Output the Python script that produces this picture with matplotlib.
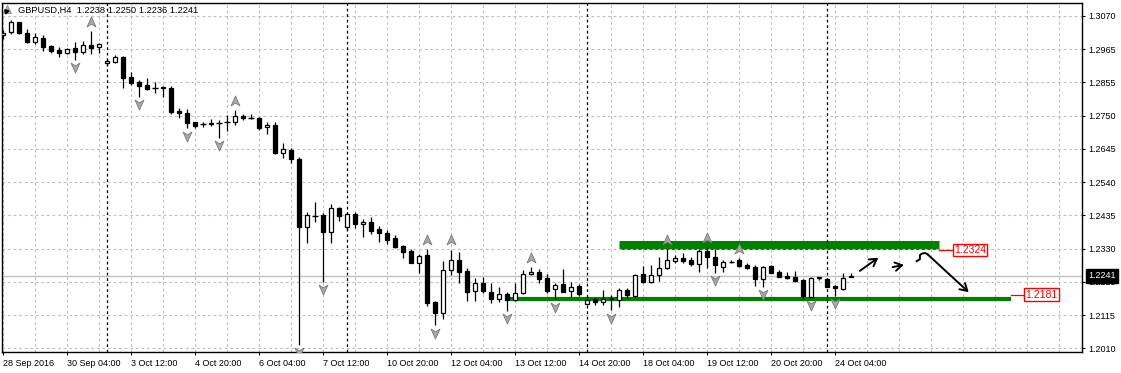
import matplotlib
matplotlib.use("Agg")
import matplotlib.pyplot as plt
import numpy as np
from matplotlib.lines import Line2D
from matplotlib.path import Path
from matplotlib.transforms import blended_transform_factory

plt.rcParams["font.family"] = ["Liberation Sans", "DejaVu Sans"]

# GBPUSD H4 candles, 28 Sep 20:00 .. 24 Oct 12:00
opens = [1.3009, 1.3018, 1.3050, 1.3015, 1.2988, 1.2999, 1.2974, 1.2962, 1.2951, 1.2967,
         1.2956, 1.2977, 1.2970, 1.2919, 1.2924, 1.2938, 1.2874, 1.2859, 1.2850, 1.2841,
         1.2844, 1.2841, 1.2767, 1.2760, 1.2731, 1.2724, 1.2730, 1.2727, 1.2732, 1.2732,
         1.2752, 1.2745, 1.2744, 1.2715, 1.2722, 1.2634, 1.2643, 1.2613, 1.2396, 1.2434,
         1.2435, 1.2382, 1.2457, 1.2396, 1.2438, 1.2406, 1.2414, 1.2390, 1.2379, 1.2361,
         1.2336, 1.2321, 1.2281, 1.2308, 1.2159, 1.2122, 1.2260, 1.2292, 1.2257, 1.2192,
         1.2217, 1.2190, 1.2166, 1.2182, 1.2164, 1.2187, 1.2246, 1.2253, 1.2233, 1.2198,
         1.2214, 1.2194, 1.2209, 1.2151, 1.2167, 1.2158, 1.2166, 1.2164, 1.2196, 1.2178,
         1.2247, 1.2222, 1.2244, 1.2265, 1.2288, 1.2297, 1.2292, 1.2279, 1.2320, 1.2300,
         1.2270, 1.2284, 1.2292, 1.2276, 1.2270, 1.2230, 1.2272, 1.2254, 1.2241, 1.2236,
         1.2228, 1.2175, 1.2233, 1.2231, 1.2209, 1.2198, 1.2238]
highs = [1.3025, 1.3057, 1.3052, 1.3028, 1.3015, 1.3010, 1.2977, 1.2970, 1.2969, 1.2988,
         1.2990, 1.3022, 1.2985, 1.2932, 1.2946, 1.2942, 1.2892, 1.2866, 1.2871, 1.2860,
         1.2847, 1.2847, 1.2776, 1.2773, 1.2733, 1.2733, 1.2740, 1.2738, 1.2754, 1.2770,
         1.2756, 1.2756, 1.2749, 1.2733, 1.2731, 1.2666, 1.2648, 1.2621, 1.2446, 1.2476,
         1.2440, 1.2470, 1.2462, 1.2445, 1.2444, 1.2421, 1.2430, 1.2400, 1.2387, 1.2371,
         1.2339, 1.2326, 1.2310, 1.2326, 1.2162, 1.2288, 1.2324, 1.2318, 1.2265, 1.2235,
         1.2238, 1.2217, 1.2205, 1.2190, 1.2217, 1.2260, 1.2268, 1.2262, 1.2246, 1.2217,
         1.2263, 1.2222, 1.2215, 1.2169, 1.2172, 1.2196, 1.2180, 1.2201, 1.2201, 1.2247,
         1.2273, 1.2276, 1.2302, 1.2326, 1.2308, 1.2315, 1.2302, 1.2326, 1.2331, 1.2326,
         1.2292, 1.2293, 1.2297, 1.2281, 1.2276, 1.2273, 1.2275, 1.2260, 1.2254, 1.2257,
         1.2231, 1.2236, 1.2238, 1.2233, 1.2212, 1.2251, 1.2250]
lows = [1.2997, 1.3012, 1.3012, 1.2985, 1.2980, 1.2959, 1.2951, 1.2940, 1.2949, 1.2930,
        1.2949, 1.2949, 1.2951, 1.2910, 1.2919, 1.2841, 1.2850, 1.2813, 1.2834, 1.2823,
        1.2813, 1.2756, 1.2744, 1.2712, 1.2714, 1.2715, 1.2719, 1.2682, 1.2704, 1.2722,
        1.2738, 1.2740, 1.2706, 1.2693, 1.2630, 1.2618, 1.2600, 1.2022, 1.2347, 1.2414,
        1.2222, 1.2347, 1.2417, 1.2387, 1.2393, 1.2364, 1.2374, 1.2350, 1.2342, 1.2329,
        1.2299, 1.2281, 1.2249, 1.2145, 1.2084, 1.2102, 1.2244, 1.2217, 1.2162, 1.2162,
        1.2187, 1.2155, 1.2159, 1.2130, 1.2162, 1.2182, 1.2244, 1.2217, 1.2187, 1.2166,
        1.2190, 1.2175, 1.2176, 1.2148, 1.2148, 1.2148, 1.2132, 1.2141, 1.2172, 1.2175,
        1.2217, 1.2217, 1.2225, 1.2263, 1.2281, 1.2281, 1.2272, 1.2254, 1.2265, 1.2251,
        1.2254, 1.2281, 1.2270, 1.2262, 1.2209, 1.2206, 1.2249, 1.2236, 1.2230, 1.2222,
        1.2166, 1.2173, 1.2228, 1.2204, 1.2177, 1.2196, 1.2236]
closes = [1.3016, 1.3050, 1.3015, 1.2988, 1.3003, 1.2972, 1.2959, 1.2951, 1.2964, 1.2956,
          1.2977, 1.2967, 1.2980, 1.2926, 1.2938, 1.2873, 1.2857, 1.2847, 1.2836, 1.2840,
          1.2839, 1.2765, 1.2760, 1.2730, 1.2719, 1.2725, 1.2724, 1.2728, 1.2733, 1.2751,
          1.2744, 1.2744, 1.2714, 1.2722, 1.2634, 1.2645, 1.2613, 1.2396, 1.2435, 1.2433,
          1.2382, 1.2457, 1.2432, 1.2438, 1.2406, 1.2414, 1.2384, 1.2379, 1.2355, 1.2334,
          1.2318, 1.2283, 1.2304, 1.2154, 1.2122, 1.2260, 1.2292, 1.2254, 1.2190, 1.2217,
          1.2193, 1.2166, 1.2182, 1.2164, 1.2187, 1.2246, 1.2253, 1.2230, 1.2194, 1.2212,
          1.2190, 1.2205, 1.2183, 1.2164, 1.2157, 1.2167, 1.2167, 1.2196, 1.2180, 1.2244,
          1.2222, 1.2244, 1.2265, 1.2292, 1.2297, 1.2290, 1.2278, 1.2320, 1.2300, 1.2276,
          1.2284, 1.2286, 1.2273, 1.2267, 1.2230, 1.2270, 1.2251, 1.2238, 1.2233, 1.2225,
          1.2177, 1.2233, 1.2236, 1.2206, 1.2201, 1.2235, 1.2241]

up_fractals = [11, 29, 53, 56, 66, 83, 88, 92]
down_fractals = [9, 17, 23, 27, 37, 40, 54, 63, 69, 76, 89, 95, 101, 104]
week_starts = [13, 43, 73, 103]

xtick_labels = ["28 Sep 2016", "30 Sep 04:00", "3 Oct 12:00", "4 Oct 20:00", "6 Oct 04:00",
                "7 Oct 12:00", "10 Oct 20:00", "12 Oct 04:00", "13 Oct 12:00", "14 Oct 20:00",
                "18 Oct 04:00", "19 Oct 12:00", "20 Oct 20:00", "24 Oct 04:00"]
ytick_labels = ["1.2010", "1.2115", "1.2225", "1.2330", "1.2435", "1.2540",
                "1.2645", "1.2750", "1.2855", "1.2965", "1.3070"]

header = "GBPUSD,H4  1.2238 1.2250 1.2236 1.2241"
bid = 1.2241
resist_label = "1.2324"
support_label = "1.2181"


def fractal_marker(up=True):
    s = 1 if up else -1
    verts = [(0, s * 1.0), (0.8, -s * 0.8), (0, -s * 0.3), (-0.8, -s * 0.8), (0, s * 1.0)]
    codes = [Path.MOVETO, Path.LINETO, Path.LINETO, Path.LINETO, Path.CLOSEPOLY]
    return Path(verts, codes)


fig = plt.figure(figsize=(11.21, 3.73), dpi=100)
W, H = 1121, 373
ax = fig.add_axes([2.3 / W, 1 - 352.3 / H, (1081.5 - 2.3) / W, (352.3 - 2.7) / H])

o = np.array(opens)
h = np.array(highs)
l = np.array(lows)
c = np.array(closes)
x = np.arange(len(o))

# grid
ax.set_xlim(-0.09, 134.8)
ax.set_ylim(1.19972, 1.31124)
yt = np.linspace(1.2010, 1.3070, len(ytick_labels))
for v in yt:
    ax.axhline(v, color="#c0c0c0", lw=0.8, ls=(0, (2.5, 2.5)), zorder=1)
for gx in np.arange(0, 135, 4):
    ax.axvline(gx, color="#c0c0c0", lw=0.8, ls=(0, (2.5, 2.5)), zorder=0.3)
for wx in week_starts:
    ax.axvline(wx, color="black", lw=0.9, ls=(0, (2.2, 2.2)), zorder=1.2)

ax.axhline(bid, color="#c0c0c0", lw=1.0, zorder=1.1)

# support / resistance bands
ax.plot([77, 117], [1.2338, 1.2338], color="#008000", lw=6.5, solid_capstyle="butt", zorder=0.5)
ax.plot([63.4, 126], [1.2168, 1.2168], color="#008000", lw=3.0, solid_capstyle="butt", zorder=0.5)

# candles
ax.vlines(x, l, h, color="black", lw=0.9, zorder=2)
body_lo = np.minimum(o, c)
body_h = np.abs(c - o)
bull = c >= o
solid = body_h >= 0.00025
ax.bar(x[solid & bull], body_h[solid & bull], bottom=body_lo[solid & bull], width=0.58,
       color="white", edgecolor="black", linewidth=0.9, zorder=3)
ax.bar(x[solid & ~bull], body_h[solid & ~bull], bottom=body_lo[solid & ~bull], width=0.58,
       color="black", edgecolor="black", linewidth=0.9, zorder=3)
ax.hlines(c[~solid], x[~solid] - 0.32, x[~solid] + 0.32, color="black", lw=1.0, zorder=3)

# fractals
ax.plot(up_fractals, h[up_fractals] + 0.0030, ls="none", marker=fractal_marker(True),
        ms=8, mfc="#a8a8a8", mec="#7a7a7a", mew=0.6, zorder=4)
ax.plot(down_fractals, l[down_fractals] - 0.0024, ls="none", marker=fractal_marker(False),
        ms=8, mfc="#a8a8a8", mec="#7a7a7a", mew=0.6, zorder=4)

# price labels of the levels
ax.plot([117, 118.6], [1.2324, 1.2324], color="red", lw=0.9, zorder=3)
ax.plot([126, 127.5], [1.2181, 1.2181], color="red", lw=0.9, zorder=3)
box = dict(boxstyle="square,pad=0.12", fc="white", ec="red", lw=1.0)
ax.text(118.85, 1.2324, resist_label, color="red", fontsize=7.5, ha="left", va="center",
        bbox=box, zorder=5)
ax.text(127.75, 1.2181, support_label, color="red", fontsize=7.5, ha="left", va="center",
        bbox=box, zorder=5)

# hand drawn arrows
arw = dict(arrowstyle="->,head_length=0.5,head_width=0.3", color="black", lw=1.4,
           shrinkA=0, shrinkB=0)
ax.annotate("", xy=(109.4, 1.2299), xytext=(107.1, 1.2257), arrowprops=arw, zorder=5)
ax.annotate("", xy=(112.6, 1.2276), xytext=(111.2, 1.2269), arrowprops=arw, zorder=5)
ax.plot([114.2, 114.6, 114.6, 114.85, 115.25, 115.55],
        [1.2288, 1.2294, 1.2307, 1.2312, 1.2314, 1.2310], color="black", lw=1.4, zorder=5)
ax.annotate("", xy=(120.7, 1.2189), xytext=(115.55, 1.2310), arrowprops=arw, zorder=5)

# axes styling
for sp in ax.spines.values():
    sp.set_color("black")
    sp.set_linewidth(1.0)
ax.set_xticks(np.arange(0, 8 * len(xtick_labels), 8))
ax.set_xticklabels(xtick_labels, ha="left", fontsize=6.5)
ax.set_yticks(yt)
ax.set_yticklabels(ytick_labels, fontsize=6.5)
ax.yaxis.tick_right()
ax.tick_params(axis="both", direction="out", length=2.5, width=0.8, pad=2.5, colors="black")

tr = blended_transform_factory(ax.transAxes, ax.transData)
ax.text(1.0065, bid, f"{bid:.4f}", transform=tr, color="white", fontsize=6.5, ha="left",
        va="center", bbox=dict(boxstyle="square,pad=0.25", fc="black", ec="black"),
        zorder=6, clip_on=False)

# header with the terminal's little symbol icon
fig.text(18 / W, 1 - 10 / H, header, fontsize=6.7, ha="left", va="center")
fig.add_artist(Line2D([7 / W], [1 - 9 / H], transform=fig.transFigure, marker="^", ms=6,
                      mfc="#b0b0b0", mec="#808080", mew=0.5, ls="none"))
fig.add_artist(Line2D([6 / W], [1 - 11 / H], transform=fig.transFigure, marker=(3, 0, 45),
                      ms=3.5, mfc="black", mec="black", ls="none"))

fig.savefig("out.png", dpi=100)
